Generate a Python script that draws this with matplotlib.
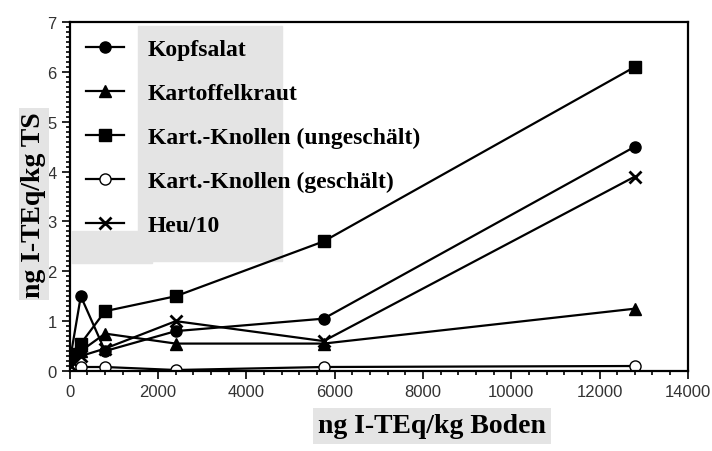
import numpy as np
import matplotlib
matplotlib.use("Agg")
import matplotlib.pyplot as plt
from matplotlib.patches import Rectangle
from matplotlib.ticker import MultipleLocator

# Bodengehalt (x) und Gehalte in den Pflanzen (y)
boden = [20, 250, 800, 2400, 5750, 12800]
kopfsalat = [0.3, 1.5, 0.4, 0.8, 1.05, 4.5]
kartoffelkraut = [0.2, 0.4, 0.75, 0.55, 0.55, 1.25]
knollen_ungeschaelt = [0.35, 0.55, 1.2, 1.5, 2.6, 6.1]
knollen_geschaelt = [0.05, 0.08, 0.08, 0.02, 0.08, 0.1]
heu_10 = [0.1, 0.3, 0.45, 1.0, 0.6, 3.9]

labels = ["Kopfsalat", "Kartoffelkraut", "Kart.-Knollen (ungeschält)",
          "Kart.-Knollen (geschält)", "Heu/10"]

grau = "#e4e4e4"
fig = plt.figure(figsize=(7.12, 4.52), dpi=100)
ax = fig.add_axes([0.098, 0.177, 0.868, 0.772])

# grauer Hintergrund hinter der Legende (Scan)
ax.add_patch(Rectangle((138 / 712, 1 - 262 / 452), 144 / 712, 235 / 452,
                       transform=fig.transFigure, color=grau, zorder=0))
ax.add_patch(Rectangle((72 / 712, 1 - 264 / 452), 80 / 712, 32 / 452,
                       transform=fig.transFigure, color=grau, zorder=0))

kw = dict(color="black", linewidth=1.6, markersize=8)
ax.plot(boden, kopfsalat, marker="o", label=labels[0], **kw)
ax.plot(boden, kartoffelkraut, marker="^", label=labels[1], **kw)
ax.plot(boden, knollen_ungeschaelt, marker="s", label=labels[2], **kw)
ax.plot(boden, knollen_geschaelt, marker="o", markerfacecolor="white", label=labels[3], **kw)
ax.plot(boden, heu_10, marker="x", markeredgewidth=2.0, label=labels[4], **kw)

ax.set_xlim(0, 14000)
ax.set_ylim(0, 7)
ax.xaxis.set_major_locator(MultipleLocator(2000))
ax.xaxis.set_minor_locator(MultipleLocator(400))
ax.yaxis.set_major_locator(MultipleLocator(1))
ax.yaxis.set_minor_locator(MultipleLocator(0.1))
ax.tick_params(which="both", direction="out", top=False, right=False, width=1.2)
ax.tick_params(which="major", length=6, labelsize=12, labelcolor="#333333")
ax.tick_params(which="minor", length=3)
for lab in ax.get_xticklabels() + ax.get_yticklabels():
    lab.set_fontfamily("Liberation Sans")
for s in ax.spines.values():
    s.set_linewidth(1.6)

# Achsentitel mit grauem Kasten
fig.text(432 / 712, 1 - 427 / 452, "ng I-TEq/kg Boden", fontsize=20, fontweight="bold",
         family="Liberation Serif", ha="center", va="center",
         bbox=dict(facecolor=grau, edgecolor="none", pad=4))
fig.text(34 / 712, 1 - 205 / 452, "ng I-TEq/kg TS", fontsize=20, fontweight="bold",
         family="Liberation Serif", ha="center", va="center", rotation=90,
         bbox=dict(facecolor=grau, edgecolor="none", pad=2))

ax.legend(loc="upper left", frameon=False, handlelength=1.6, labelspacing=0.95,
          borderaxespad=0.3, handletextpad=1.0,
          prop=dict(family="Liberation Serif", weight="bold", size=17))

fig.savefig("out.png", dpi=100)
